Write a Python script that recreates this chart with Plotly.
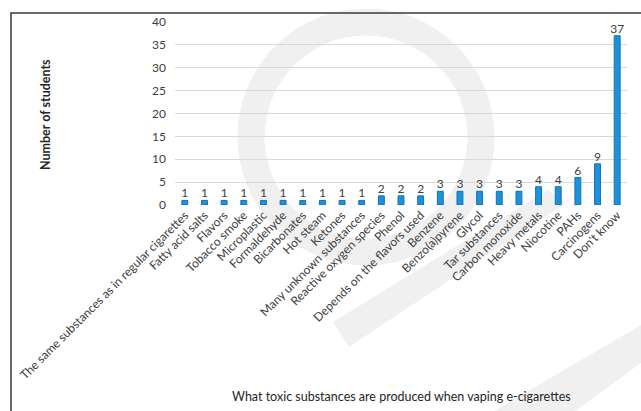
import plotly.graph_objects as go

categories = [
    "The same substances as in regular cigarettes", "Fatty acid salts", "Flavors",
    "Tobacco smoke", "Microplastic", "Formaldehyde", "Bicarbonates", "Hot steam",
    "Ketones", "Many unknown substances", "Reactive oxygen species", "Phenol",
    "Depends on the flavors used", "Benzene", "Benzo(a)pyrene", "Glycol",
    "Tar substances", "Carbon monoxide", "Heavy metals", "Niocotine", "PAHs",
    "Carcinogens", "Don't know",
]
values = [1, 1, 1, 1, 1, 1, 1, 1, 1, 1, 2, 2, 2, 3, 3, 3, 3, 3, 4, 4, 6, 9, 37]
y_ticks = [0, 5, 10, 15, 20, 25, 30, 35, 40]

W, H = 641, 411
L, R, T, B = 175, 14, 22, 206
PW, PH = W - L - R, H - T - B

def px(x):
    return (x - L) / PW

def py(y):
    return (H - B - y) / PH

FONT = "Lato"
TXT = "#404040"

fig = go.Figure()
fig.add_trace(go.Bar(
    x=categories, y=values, width=0.3,
    marker=dict(color="#1b92dc", line=dict(color="#1a6fae", width=1)),
    text=[str(v) for v in values], textposition="outside", cliponaxis=False,
    constraintext="none",
    textfont=dict(family=FONT, size=12, color=TXT),
))

shapes = []
wm = "#f0f0f0"
# watermark ring
shapes.append(dict(type="circle", xref="paper", yref="paper",
                   x0=px(366 - 115), x1=px(366 + 115), y0=py(137 + 115), y1=py(137 - 115),
                   line=dict(color=wm, width=27), fillcolor="rgba(0,0,0,0)", layer="below"))
# watermark bands
def poly(pts):
    return "M " + " L ".join(f"{px(a)},{py(b)}" for a, b in pts) + " Z"
shapes.append(dict(type="path", xref="paper", yref="paper",
                   path=poly([(333, 322), (349, 347), (566, 203), (548, 190)]),
                   fillcolor=wm, line=dict(width=0), layer="below"))
shapes.append(dict(type="path", xref="paper", yref="paper",
                   path=poly([(494, 411), (575, 411), (641, 363), (641, 325)]),
                   fillcolor=wm, line=dict(width=0), layer="below"))
# border
shapes.append(dict(type="rect", xref="paper", yref="paper",
                   x0=px(11), x1=px(660), y0=py(430), y1=py(13),
                   line=dict(color="#3a3a3a", width=1.5), fillcolor="rgba(0,0,0,0)", layer="above"))

fig.update_layout(
    width=W, height=H,
    margin=dict(l=L, r=R, t=T, b=B),
    paper_bgcolor="white", plot_bgcolor="rgba(0,0,0,0)",
    showlegend=False, bargap=0.7,
    font=dict(family=FONT, color=TXT),
    shapes=shapes,
    xaxis=dict(tickangle=-45, tickfont=dict(family=FONT, size=12, color=TXT),
               showgrid=False, showline=False, ticks="", automargin=False),
    yaxis=dict(range=[0, 40], tickvals=y_ticks, showgrid=True, gridcolor="#d9d9d9",
               gridwidth=1, zeroline=False, showline=False, ticks="",
               tickfont=dict(family=FONT, size=12, color=TXT), ticklabelstandoff=8,
               automargin=False),
    annotations=[
        dict(text="<b>Number of students</b>", xref="paper", yref="paper",
             x=px(45), y=py(115), textangle=-90, showarrow=False,
             font=dict(family=FONT, size=12.5, color="#262626"),
             xanchor="center", yanchor="middle"),
        dict(text="What toxic substances are produced when vaping e-cigarettes",
             xref="paper", yref="paper", x=px(401), y=py(396), showarrow=False,
             font=dict(family=FONT, size=12.5, color="#262626"),
             xanchor="center", yanchor="middle"),
    ],
)

fig.write_html("out.html")
